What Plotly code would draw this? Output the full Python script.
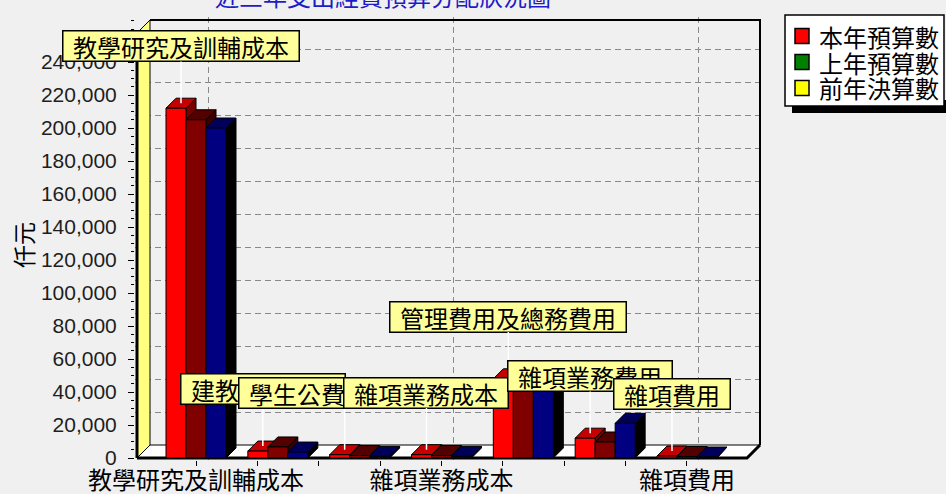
import plotly.graph_objects as go

# ---------------- data ----------------
categories = ["教學研究及訓輔成本", "建教合作成本", "學生公費及獎勵金", "雜項業務成本",
              "管理費用及總務費用", "雜項業務費用", "雜項費用"]
series_names = ["本年預算數", "上年預算數", "前年決算數"]
current_budget = [212000, 4200, 2000, 2000, 48000, 12000, 1200]
last_budget = [205000, 6700, 1500, 1500, 45000, 9700, 900]
prior_actual = [200000, 3600, 1000, 1000, 42000, 21000, 600]
y_tick_values = [0, 20000, 40000, 60000, 80000, 100000, 120000, 140000,
                 160000, 180000, 200000, 220000, 240000]
x_label_index = [0, 3, 6]
title_text = "近三年支出經費預算分配狀況圖"
y_title = "仟元"

# ---------------- styles ----------------
bar_front = ["#FF0000", "#800000", "#000080"]
bar_top = ["#C40000", "#520000", "#000058"]
bar_side = ["#7A0000", "#380000", "#000000"]
legend_colors = ["#FF0000", "#008000", "#FFFF00"]
BG = "#F0F0F0"
CJK = "Noto Sans CJK TC"

W, H = 946, 494
PL, PR, PT, PB = 135, 763, 17, 460
X0PX, SX = 196.0, 81.83            # pixel of first category, px per category
Y0PX, SY = 458.0, 33 / 20000       # pixel of value 0, px per unit


def px2x(p):
    return (p - X0PX) / SX


def px2y(p):
    return (Y0PX - p) / SY


def pfx(p):
    return (p - PL) / (PR - PL)


def pfy(p):
    return (PB - p) / (PB - PT)


BW = 20 / SX
DXB, DYB = 10 / SX, 10 / SY

fig = go.Figure()


def poly(xs, ys, fill, lc="black", lw=1):
    fig.add_trace(go.Scatter(
        x=xs, y=ys, mode="lines", fill="toself",
        fillcolor=fill, line=dict(color=lc, width=lw),
        hoverinfo="skip", showlegend=False))


def line(xs, ys, lw, lc="black"):
    fig.add_trace(go.Scatter(x=xs, y=ys, mode="lines", line=dict(color=lc, width=lw),
                             hoverinfo="skip", showlegend=False))


# floor
poly([px2x(137), px2x(747), px2x(760), px2x(150), px2x(137)],
     [0, 0, px2y(445), px2y(445), 0], "#FFFFFF")
line([px2x(137), px2x(747), px2x(760)], [0, 0, px2y(445)], 3)
# left wall
poly([px2x(137), px2x(137), px2x(150), px2x(150), px2x(137)],
     [0, px2y(33), px2y(20), px2y(445), 0], "#FFFF80")
line([px2x(137), px2x(137)], [0, px2y(33)], 3)
# back wall border
line([px2x(150), px2x(760), px2x(760)], [px2y(20), px2y(20), px2y(445)], 2)

# 3D bars
all_series = [current_budget, last_budget, prior_actual]
for s, vals in enumerate(all_series):
    side_x, side_y, top_x, top_y, fr_x, fr_y = [], [], [], [], [], []
    for i, v in enumerate(vals):
        x0 = i - 1.5 * BW + s * BW
        x1 = x0 + BW
        side_x += [x1, x1 + DXB, x1 + DXB, x1, x1, None]
        side_y += [0, DYB, v + DYB, v, 0, None]
        top_x += [x0, x1, x1 + DXB, x0 + DXB, x0, None]
        top_y += [v, v, v + DYB, v + DYB, v, None]
        fr_x += [x0, x1, x1, x0, x0, None]
        fr_y += [0, 0, v, v, 0, None]
    poly(side_x, side_y, bar_side[s])
    poly(top_x, top_y, bar_top[s])
    poly(fr_x, fr_y, bar_front[s])

# dummy trace for the back-wall grid axes
fig.add_trace(go.Scatter(x=[None], y=[None], xaxis="x2", yaxis="y2",
                         hoverinfo="skip", showlegend=False))

n_ticks = 9
x_tick_vals = [k * (len(categories) - 1) / (n_ticks - 1) for k in range(n_ticks)]
x_tick_text = [""] * n_ticks
for idx in x_label_index:
    x_tick_text[round(idx * (n_ticks - 1) / (len(categories) - 1))] = categories[idx]

fig.update_layout(
    width=W, height=H,
    margin=dict(l=PL, r=W - PR, t=PT, b=H - PB, pad=0, autoexpand=False),
    paper_bgcolor=BG, plot_bgcolor=BG,
    showlegend=False,
    xaxis=dict(range=[px2x(PL), px2x(PR)], tickmode="array", tickvals=x_tick_vals,
               ticktext=x_tick_text, ticks="outside", ticklen=5, tickcolor="black",
               ticklabelstandoff=-6, automargin=False,
               showgrid=False, zeroline=False, showline=False,
               tickfont=dict(family=CJK, size=24, color="black")),
    yaxis=dict(range=[px2y(PB), px2y(PT)], tickmode="array", tickvals=y_tick_values,
               tickformat=",d", ticks="outside", ticklen=6, tickcolor="black",
               ticklabelstandoff=7, automargin=False,
               showgrid=False, zeroline=False, showline=False,
               minor=dict(ticks="outside", ticklen=3, dtick=5000, tickcolor="black"),
               tickfont=dict(family="Liberation Sans", size=21, color="#1E1E1E")),
    xaxis2=dict(overlaying="x", anchor="y2", range=[(PL - 208) / SX, (PR - 208) / SX],
                tickmode="array", tickvals=[x_tick_vals[k] for k in (0, 4, 8)],
                showticklabels=False, ticks="", showgrid=True, griddash="6px,4px",
                automargin=False,
                gridcolor="#8A8A8A", gridwidth=1, zeroline=False, showline=False),
    yaxis2=dict(overlaying="y", anchor="x2", range=[(445 - PB) / SY, (445 - PT) / SY],
                tickmode="array", tickvals=y_tick_values[1:],
                showticklabels=False, ticks="", showgrid=True, griddash="6px,4px",
                automargin=False,
                gridcolor="#8A8A8A", gridwidth=1, zeroline=False, showline=False),
)

annotations = []
# title (partly cut off at the top)
annotations.append(dict(text=title_text, xref="paper", yref="paper",
                        x=pfx(383), y=pfy(-5), xanchor="center", yanchor="middle",
                        showarrow=False, font=dict(family=CJK, size=24, color="#1C1CC8")))
# y title
annotations.append(dict(text=y_title, xref="paper", yref="paper",
                        x=pfx(23), y=pfy(245), xanchor="center", yanchor="middle",
                        textangle=-90, showarrow=False,
                        font=dict(family=CJK, size=23, color="black")))
# callouts
for i, name in enumerate(categories):
    annotations.append(dict(
        text=name, x=i - BW + DXB / 2, y=current_budget[i] + DYB / 2,
        xref="x", yref="y", showarrow=True, arrowhead=0, arrowwidth=1.5,
        arrowcolor="white", ax=0, ay=-57, standoff=0,
        bgcolor="#FFFF99", bordercolor="black", borderwidth=1.5, borderpad=1,
        width=len(name) * 24 + 17, height=27,
        font=dict(family=CJK, size=24, color="black")))

# legend
shapes = [
    dict(type="rect", xref="paper", yref="paper", x0=pfx(792), x1=pfx(946),
         y0=pfy(113), y1=pfy(100), fillcolor="black", line=dict(width=0)),
    dict(type="rect", xref="paper", yref="paper", x0=pfx(785), x1=pfx(944),
         y0=pfy(106), y1=pfy(15), fillcolor="white", line=dict(color="black", width=1.5)),
]
for k, (nm, col) in enumerate(zip(series_names, legend_colors)):
    cy = 36 + 26 * k
    shapes.append(dict(type="rect", xref="paper", yref="paper",
                       x0=pfx(795), x1=pfx(809), y0=pfy(cy + 7.5), y1=pfy(cy - 7.5),
                       fillcolor=col, line=dict(color="black", width=1.5)))
    annotations.append(dict(text=nm, xref="paper", yref="paper", x=pfx(817), y=pfy(cy),
                            xanchor="left", yanchor="middle", showarrow=False,
                            font=dict(family=CJK, size=24, color="black")))

fig.update_layout(annotations=annotations, shapes=shapes)
page_css = ("var s=document.createElement('style');"
            "s.textContent='html,body{margin:0;padding:0;overflow:hidden;}';"
            "document.head.appendChild(s);")
fig.write_html("out.html", config={"displayModeBar": False}, post_script=page_css)
